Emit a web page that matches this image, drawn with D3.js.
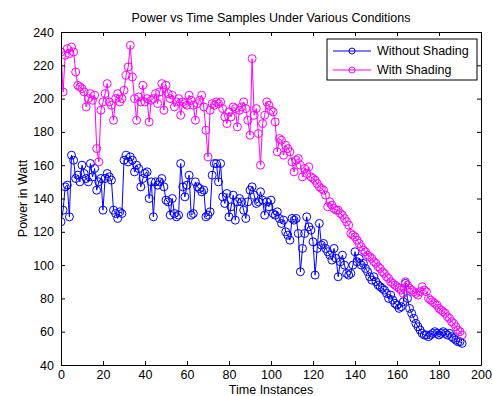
<!DOCTYPE html>
<html>
<head>
<meta charset="utf-8">
<script src="https://cdn.jsdelivr.net/npm/d3@7"></script>
<style>
  body { margin: 0; background: #fff; }
  text { font-family: "Liberation Sans", Arial, sans-serif; }
</style>
</head>
<body>
<div id="chart"></div>
<script>
// series (192 samples each)
const withoutShading = [
  126,133,147,148,129,166,163,152,154,150,160,155,152,150,161,153,158,145,150,152,
  133,152,155,153,151,133,131,128,132,131,163,166,162,165,163,156,160,158,147,152,
  155,156,140,150,129,150,148,150,152,147,139,138,130,140,131,129,130,161,147,141,
  148,154,130,131,150,147,146,144,145,129,130,132,154,161,161,150,161,141,137,143,
  129,135,142,127,138,140,138,133,128,138,145,147,142,137,138,144,139,130,138,135,
  139,131,130,132,128,125,127,120,118,115,128,127,128,119,96,110,119,129,123,121,
  114,94,110,125,112,113,110,108,106,103,110,104,93,102,106,100,95,94,95,100,
  108,102,104,100,101,98,96,93,91,93,90,88,87,86,85,83,80,82,79,77,
  76,74,75,78,89,80,74,71,68,65,63,61,59,58,58,57,58,59,60,59,
  58,59,60,59,58,59,57,56,55,54,54,53
];
const withShading = [
  228,204,226,230,227,231,228,216,208,207,206,204,195,200,203,199,202,170,162,193,
  198,203,209,198,196,187,200,203,198,200,205,214,219,232,213,200,187,201,198,208,
  198,200,186,199,200,203,197,204,209,193,208,203,200,202,195,198,200,190,198,197,
  196,202,199,196,187,197,199,202,195,181,165,193,197,196,198,197,198,194,189,185,
  192,189,195,194,183,193,195,198,194,187,178,224,190,194,179,160,185,190,198,196,
  193,192,186,168,176,175,166,172,170,168,162,156,163,164,160,153,158,155,159,153,
  152,151,149,147,146,145,142,135,138,136,134,133,133,131,130,128,126,124,119,118,
  117,115,113,111,109,108,106,105,104,102,101,99,98,96,95,93,92,90,89,88,
  87,86,85,83,90,88,86,85,84,83,82,84,87,85,84,80,79,78,77,76,
  74,73,72,71,69,68,66,65,63,61,60,58
];
const seriesNames = ['Without Shading', 'With Shading'];
const seriesColors = ['#0000ff', '#ff00ff'];
const xTicks = [0, 20, 40, 60, 80, 100, 120, 140, 160, 180, 200];
const yTicks = [40, 60, 80, 100, 120, 140, 160, 180, 200, 220, 240];

const width = 492, height = 396;
const margin = { top: 32, right: 11, bottom: 31, left: 61 };
const fontSize = '12.5px';

const svg = d3.select('#chart')
  .append('svg')
  .attr('width', width)
  .attr('height', height);

const x = d3.scaleLinear().domain([0, 200]).range([margin.left, width - margin.right]);
const y = d3.scaleLinear().domain([40, 240]).range([height - margin.bottom, margin.top]);

// plot area clip
svg.append('clipPath').attr('id', 'clip')
  .append('rect')
  .attr('x', margin.left).attr('y', margin.top)
  .attr('width', x(200) - x(0)).attr('height', y(40) - y(240));

const plot = svg.append('g').attr('clip-path', 'url(#clip)');

const line = d3.line().x((d, i) => x(i)).y(d => y(d));

[withoutShading, withShading].forEach((data, k) => {
  const g = plot.append('g');
  g.append('path')
    .datum(data)
    .attr('d', line)
    .attr('fill', 'none')
    .attr('stroke', seriesColors[k])
    .attr('stroke-width', 1);
  g.selectAll('circle')
    .data(data)
    .enter()
    .append('circle')
    .attr('cx', (d, i) => x(i))
    .attr('cy', d => y(d))
    .attr('r', 4)
    .attr('fill', 'none')
    .attr('stroke', seriesColors[k])
    .attr('stroke-width', 1);
});

// axes, MATLAB style: ticks pointing inward on all four sides
const tickLen = 4;
svg.append('g')
  .attr('transform', 'translate(0,' + y(40) + ')')
  .call(d3.axisBottom(x).tickValues(xTicks).tickSizeInner(-tickLen).tickSizeOuter(0).tickPadding(5));
svg.append('g')
  .attr('transform', 'translate(0,' + y(240) + ')')
  .call(d3.axisTop(x).tickValues(xTicks).tickSizeInner(-tickLen).tickSizeOuter(0).tickFormat(''));
svg.append('g')
  .attr('transform', 'translate(' + x(0) + ',0)')
  .call(d3.axisLeft(y).tickValues(yTicks).tickSizeInner(-tickLen).tickSizeOuter(0).tickPadding(7));
svg.append('g')
  .attr('transform', 'translate(' + x(200) + ',0)')
  .call(d3.axisRight(y).tickValues(yTicks).tickSizeInner(-tickLen).tickSizeOuter(0).tickFormat(''));

svg.selectAll('.tick text')
  .style('font-size', fontSize)
  .style('font-family', '"Liberation Sans", Arial, sans-serif')
  .attr('fill', '#000');
svg.selectAll('.domain').attr('stroke', '#000');

// title and axis labels
svg.append('text')
  .attr('x', (x(0) + x(200)) / 2)
  .attr('y', 22)
  .attr('text-anchor', 'middle')
  .style('font-size', fontSize)
  .attr('fill', '#000')
  .text('Power vs Time Samples Under Various Conditions');

svg.append('text')
  .attr('x', (x(0) + x(200)) / 2)
  .attr('y', 394)
  .attr('text-anchor', 'middle')
  .style('font-size', fontSize)
  .attr('fill', '#000')
  .text('Time Instances');

svg.append('text')
  .attr('transform', 'translate(27,' + ((y(40) + y(240)) / 2) + ') rotate(-90)')
  .attr('text-anchor', 'middle')
  .style('font-size', fontSize)
  .attr('fill', '#000')
  .text('Power in Watt');

// legend
const legend = svg.append('g').attr('transform', 'translate(327,39)');
legend.append('rect')
  .attr('width', 150).attr('height', 41)
  .attr('fill', '#fff').attr('stroke', '#000');

seriesNames.forEach((name, k) => {
  const ly = 12 + k * 19;
  legend.append('line')
    .attr('x1', 6).attr('x2', 44).attr('y1', ly).attr('y2', ly)
    .attr('stroke', seriesColors[k]);
  legend.append('circle')
    .attr('cx', 25).attr('cy', ly).attr('r', 3)
    .attr('fill', 'none').attr('stroke', seriesColors[k]);
  legend.append('text')
    .attr('x', 50).attr('y', ly + 4)
    .style('font-size', fontSize)
    .attr('fill', '#000')
    .text(name);
});
</script>
</body>
</html>
